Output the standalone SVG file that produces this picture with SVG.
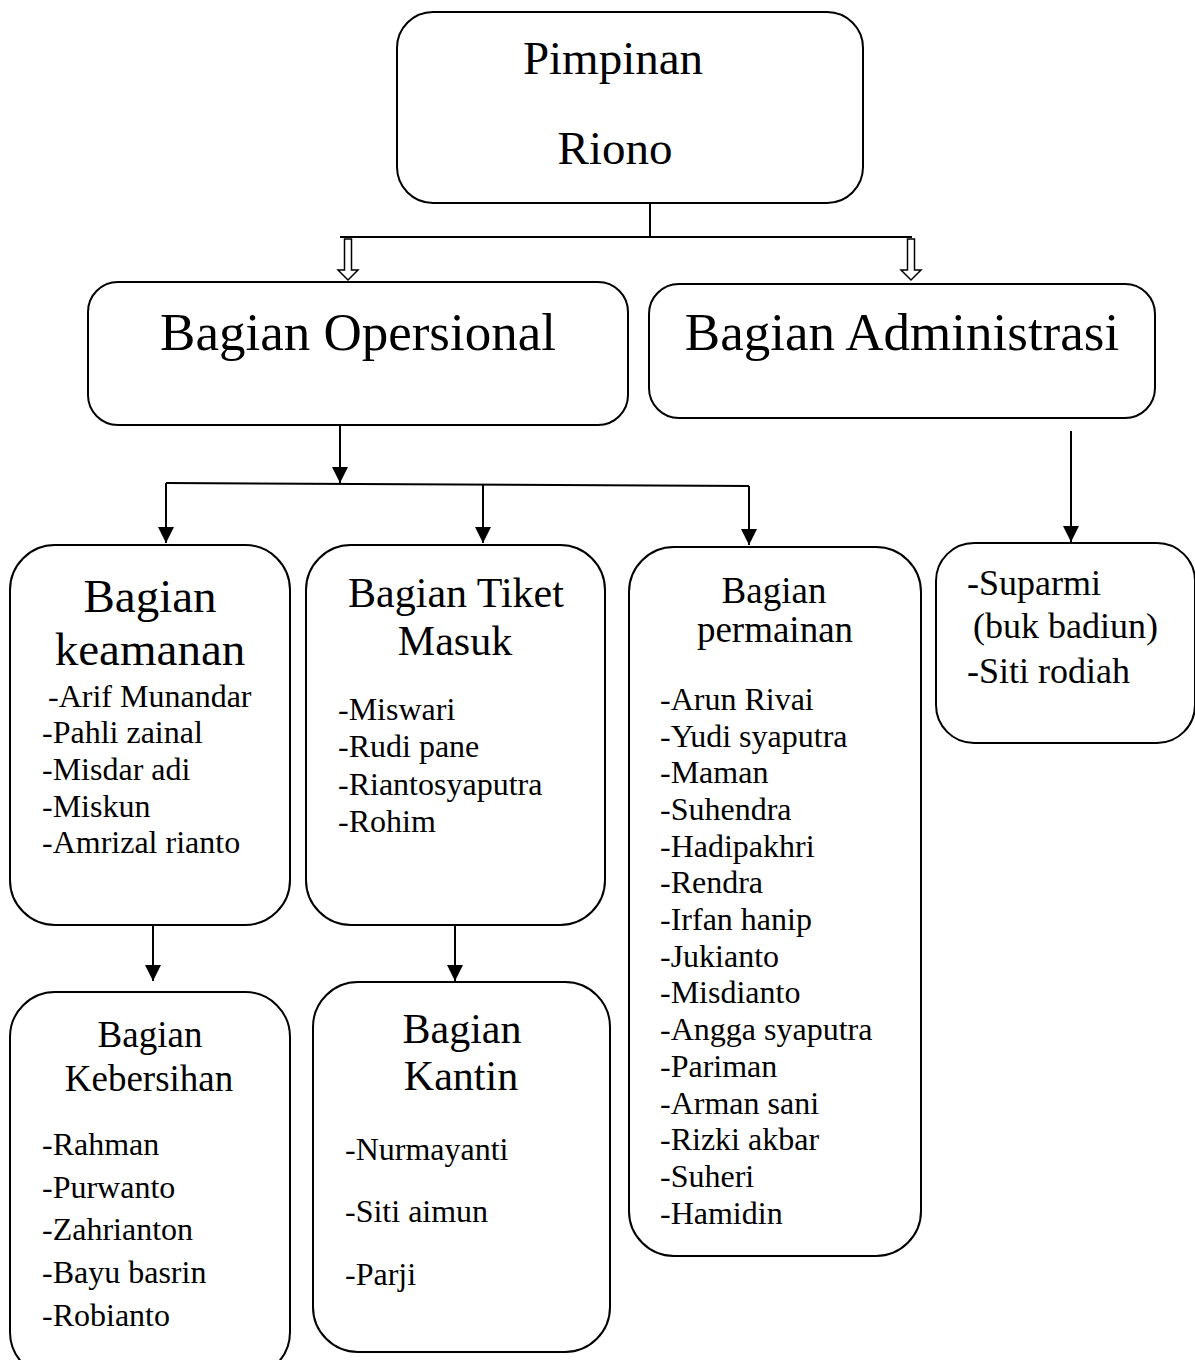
<svg xmlns="http://www.w3.org/2000/svg" width="1195" height="1360" viewBox="0 0 1195 1360">
<style>
.box{fill:#fff;stroke:#000;stroke-width:2}
.t{font-family:"Liberation Serif","Times New Roman",serif;fill:#000}
.c{text-anchor:middle}
.l{font-size:32px}
.ln{stroke:#000;stroke-width:2;fill:none}
.hol{fill:#fff;stroke:#000;stroke-width:1.5}
</style>
<defs>
<marker id="ah" viewBox="0 0 16 18" refX="16" refY="9" markerWidth="16" markerHeight="18" markerUnits="userSpaceOnUse" orient="auto">
<path d="M0,1 L16,9 L0,17 z" fill="#000"/>
</marker>
</defs>
<rect width="1195" height="1360" fill="#fff"/>

<g id="connectors">
<line class="ln" x1="650" y1="203" x2="650" y2="237"/>
<line class="ln" x1="340" y1="237" x2="912" y2="237"/>
<polygon class="hol" points="344.5,239 351.5,239 351.5,270 358,270 348,280 338,270 344.5,270"/>
<polygon class="hol" points="907.5,239 914.5,239 914.5,270 921,270 911,280 901,270 907.5,270"/>
<line class="ln" x1="340" y1="425" x2="340" y2="483" marker-end="url(#ah)"/>
<line class="ln" x1="166" y1="483" x2="749" y2="486"/>
<line class="ln" x1="166" y1="483" x2="166" y2="543" marker-end="url(#ah)"/>
<line class="ln" x1="483" y1="484" x2="483" y2="543" marker-end="url(#ah)"/>
<line class="ln" x1="749" y1="486" x2="749" y2="545" marker-end="url(#ah)"/>
<line class="ln" x1="1071" y1="431" x2="1071" y2="542" marker-end="url(#ah)"/>
<line class="ln" x1="153" y1="925" x2="153" y2="981" marker-end="url(#ah)"/>
<line class="ln" x1="455" y1="925" x2="455" y2="981" marker-end="url(#ah)"/>
</g>

<g id="pimpinan">
<rect class="box" x="397" y="12" width="466" height="191" rx="36"/>
<text class="t c" x="613" y="74" font-size="47">Pimpinan</text>
<text class="t c" x="615" y="164" font-size="47">Riono</text>
</g>

<g id="operasional">
<rect class="box" x="88" y="282" width="540" height="143" rx="30"/>
<text class="t c" x="358" y="350" font-size="53">Bagian Opersional</text>
</g>

<g id="administrasi">
<rect class="box" x="649" y="284" width="506" height="134" rx="30"/>
<text class="t c" x="902" y="350" font-size="53">Bagian Administrasi</text>
</g>

<g id="keamanan">
<rect class="box" x="10" y="545" width="280" height="380" rx="45"/>
<text class="t c" x="150" y="612" font-size="47">Bagian</text>
<text class="t c" x="150" y="665" font-size="47">keamanan</text>
<text class="t l" x="48" y="707">-Arif Munandar</text>
<text class="t l" x="42" y="743">-Pahli zainal</text>
<text class="t l" x="42" y="780">-Misdar adi</text>
<text class="t l" x="42" y="817">-Miskun</text>
<text class="t l" x="42" y="853">-Amrizal rianto</text>
</g>

<g id="tiket">
<rect class="box" x="306" y="545" width="299" height="380" rx="45"/>
<text class="t c" x="456" y="607" font-size="42">Bagian Tiket</text>
<text class="t c" x="455" y="655" font-size="42">Masuk</text>
<text class="t l" x="338" y="720">-Miswari</text>
<text class="t l" x="338" y="757">-Rudi pane</text>
<text class="t l" x="338" y="795">-Riantosyaputra</text>
<text class="t l" x="338" y="832">-Rohim</text>
</g>

<g id="permainan">
<rect class="box" x="629" y="547" width="292" height="709" rx="45"/>
<text class="t c" x="774" y="603" font-size="37">Bagian</text>
<text class="t c" x="775" y="642" font-size="37">permainan</text>
<text class="t l" x="660" y="710">-Arun Rivai</text>
<text class="t l" x="660" y="747">-Yudi syaputra</text>
<text class="t l" x="660" y="783">-Maman</text>
<text class="t l" x="660" y="820">-Suhendra</text>
<text class="t l" x="660" y="857">-Hadipakhri</text>
<text class="t l" x="660" y="893">-Rendra</text>
<text class="t l" x="660" y="930">-Irfan hanip</text>
<text class="t l" x="660" y="967">-Jukianto</text>
<text class="t l" x="660" y="1003">-Misdianto</text>
<text class="t l" x="660" y="1040">-Angga syaputra</text>
<text class="t l" x="660" y="1077">-Pariman</text>
<text class="t l" x="660" y="1114">-Arman sani</text>
<text class="t l" x="660" y="1150">-Rizki akbar</text>
<text class="t l" x="660" y="1187">-Suheri</text>
<text class="t l" x="660" y="1224">-Hamidin</text>
</g>

<g id="admin-staff">
<rect class="box" x="936" y="543" width="259" height="200" rx="38"/>
<text class="t" x="967" y="595" font-size="36">-Suparmi</text>
<text class="t" x="973" y="638" font-size="36">(buk badiun)</text>
<text class="t" x="967" y="683" font-size="36">-Siti rodiah</text>
</g>

<g id="kebersihan">
<rect class="box" x="10" y="992" width="280" height="385" rx="45"/>
<text class="t c" x="150" y="1047" font-size="37">Bagian</text>
<text class="t c" x="149" y="1091" font-size="37">Kebersihan</text>
<text class="t l" x="42" y="1155">-Rahman</text>
<text class="t l" x="42" y="1198">-Purwanto</text>
<text class="t l" x="42" y="1240">-Zahrianton</text>
<text class="t l" x="42" y="1283">-Bayu basrin</text>
<text class="t l" x="42" y="1326">-Robianto</text>
</g>

<g id="kantin">
<rect class="box" x="313" y="982" width="297" height="370" rx="45"/>
<text class="t c" x="462" y="1043" font-size="42">Bagian</text>
<text class="t c" x="461" y="1090" font-size="42">Kantin</text>
<text class="t l" x="345" y="1160">-Nurmayanti</text>
<text class="t l" x="345" y="1222">-Siti aimun</text>
<text class="t l" x="345" y="1285">-Parji</text>
</g>
</svg>
